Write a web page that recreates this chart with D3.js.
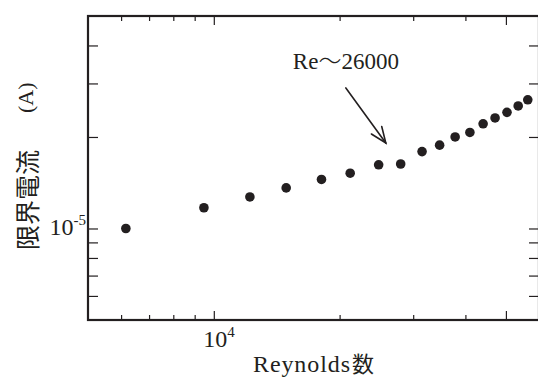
<!DOCTYPE html>
<html>
<head>
<meta charset="utf-8">
<script src="https://cdn.jsdelivr.net/npm/d3@7"></script>
<style>
  html, body { margin: 0; padding: 0; background: #fff; }
  svg { display: block; }
</style>
</head>
<body>
<svg id="chart" width="538" height="378"></svg>
<script>
// Limiting current vs. Reynolds number (log–log)
const reynolds = [6160, 9470, 12200, 14900, 18100, 21200, 24800, 28000, 31500,
                  34700, 37800, 41000, 44100, 47100, 50300, 53500, 56400];
const limitingCurrent = [1.00e-5, 1.17e-5, 1.27e-5, 1.36e-5, 1.45e-5, 1.52e-5, 1.62e-5, 1.63e-5, 1.79e-5,
                         1.88e-5, 2.00e-5, 2.07e-5, 2.21e-5, 2.31e-5, 2.41e-5, 2.53e-5, 2.65e-5];

const xDomain = [5000, 60000];
const yDomain = [5e-6, 5e-5];
const xTickValues = [6000, 7000, 8000, 9000, 10000, 20000, 30000, 40000, 50000];
const xMajorTicks = [10000, 50000];
const yTickValues = [6e-6, 7e-6, 8e-6, 9e-6, 1e-5, 2e-5, 3e-5, 4e-5];
const xTickLabels = [{ value: 1e4, base: "10", exp: "4" }];
const yTickLabels = [{ value: 1e-5, base: "10", exp: "-5" }];

const annotationText = "Re";
const annotationTilde = "～";
const annotationValue = "26000";
const annotationFrom = [20700, 2.90e-5];
const annotationTo = [25800, 1.91e-5];
const annotationTextY = 3.35e-5;

const xTitle = "Reynolds";
const xTitleUnit = "数";
const yTitle = "限界電流";
const yTitleUnit = "(A)";

const ink = "#231f20";
const serif = '"Liberation Serif"';
const gothic = '"Noto Sans CJK JP"';

const plot = { left: 88, top: 16, right: 539, bottom: 320 };

const svg = d3.select("#chart");

const x = d3.scaleLog().domain(xDomain).range([plot.left, plot.right]);
const y = d3.scaleLog().domain(yDomain).range([plot.bottom, plot.top]);

// Inward ticks on all four sides
function styleTicks(g) {
  g.select(".domain").remove();
  g.selectAll(".tick line").attr("stroke", ink).attr("stroke-width", 1.2);
  g.selectAll(".tick text").remove();
}

svg.append("g")
  .attr("transform", `translate(0,${plot.bottom})`)
  .call(d3.axisBottom(x).tickValues(xTickValues).tickSizeInner(-5).tickSizeOuter(0).tickFormat(() => ""))
  .call(styleTicks)
  .selectAll(".tick line").attr("y2", d => xMajorTicks.includes(d) ? -9 : -5);

svg.append("g")
  .attr("transform", `translate(0,${plot.top})`)
  .call(d3.axisTop(x).tickValues(xTickValues).tickSizeInner(-5).tickSizeOuter(0).tickFormat(() => ""))
  .call(styleTicks)
  .selectAll(".tick line").attr("y2", d => xMajorTicks.includes(d) ? 9 : 5);

svg.append("g")
  .attr("transform", `translate(${plot.left},0)`)
  .call(d3.axisLeft(y).tickValues(yTickValues).tickSizeInner(-10).tickSizeOuter(0).tickFormat(() => ""))
  .call(styleTicks);

svg.append("g")
  .attr("transform", `translate(${plot.right},0)`)
  .call(d3.axisRight(y).tickValues(yTickValues).tickSizeInner(-10).tickSizeOuter(0).tickFormat(() => ""))
  .call(styleTicks);

// Frame
svg.append("rect")
  .attr("x", plot.left).attr("y", plot.top)
  .attr("width", plot.right - plot.left).attr("height", plot.bottom - plot.top)
  .attr("fill", "none").attr("stroke", ink).attr("stroke-width", 2.2);

// Power-of-ten tick labels
xTickLabels.forEach(t => {
  const txt = svg.append("text")
    .attr("x", x(t.value) - 10.5).attr("y", plot.bottom + 26.5)
    .style("font-family", serif).style("font-size", "24px").attr("fill", ink);
  txt.append("tspan").text(t.base);
  txt.append("tspan").attr("dy", -10).style("font-size", "15px").text(t.exp);
});

yTickLabels.forEach(t => {
  const txt = svg.append("text")
    .attr("x", plot.left - 2).attr("y", y(t.value) + 7)
    .attr("text-anchor", "end")
    .style("font-family", serif).style("font-size", "24px").attr("fill", ink);
  txt.append("tspan").text(t.base);
  txt.append("tspan").attr("dy", -10).style("font-size", "15px").text(t.exp);
});

// Data points
svg.append("g")
  .selectAll("circle")
  .data(reynolds.map((r, i) => [r, limitingCurrent[i]]))
  .join("circle")
  .attr("cx", d => x(d[0]))
  .attr("cy", d => y(d[1]))
  .attr("r", 4.8)
  .attr("fill", ink);

// Annotation arrow pointing at the transition
const ax0 = x(annotationFrom[0]), ay0 = y(annotationFrom[1]);
const ax1 = x(annotationTo[0]), ay1 = y(annotationTo[1]);
const ang = Math.atan2(ay0 - ay1, ax0 - ax1);
const barb = 17, spread = 22 * Math.PI / 180;
const arrow = svg.append("g").attr("stroke", ink).attr("stroke-width", 1.6).attr("fill", "none")
  .attr("stroke-linecap", "round");
arrow.append("line").attr("x1", ax0).attr("y1", ay0).attr("x2", ax1).attr("y2", ay1);
arrow.append("path")
  .attr("d", `M${ax1 + barb * Math.cos(ang + spread)},${ay1 + barb * Math.sin(ang + spread)}` +
             `L${ax1},${ay1}` +
             `L${ax1 + barb * Math.cos(ang - spread)},${ay1 + barb * Math.sin(ang - spread)}`)
  .attr("stroke-linejoin", "miter");

const note = svg.append("text")
  .attr("x", ax0).attr("y", y(annotationTextY))
  .attr("text-anchor", "middle")
  .style("font-family", serif).style("font-size", "23px").attr("fill", ink);
note.append("tspan").text(annotationText);
note.append("tspan").style("font-family", gothic).style("font-weight", 300).text(annotationTilde);
note.append("tspan").text(annotationValue);

// Axis titles
const xt = svg.append("text")
  .attr("x", 253).attr("y", 372)
  .style("font-family", serif).style("font-size", "24px").attr("fill", ink);
xt.append("tspan").style("letter-spacing", "0.9px").text(xTitle);
xt.append("tspan").attr("dx", 1).style("font-family", gothic).style("font-size", "22px").text(xTitleUnit);

const yt = svg.append("g").attr("transform", "translate(25.5,250) rotate(-90)");
yt.append("text")
  .attr("x", 0).attr("y", 0)
  .attr("dominant-baseline", "central")
  .style("font-family", gothic).style("font-size", "25px").attr("fill", ink)
  .text(yTitle);
yt.append("text")
  .attr("x", 137).attr("y", 0)
  .attr("dominant-baseline", "central")
  .style("font-family", serif).style("font-size", "22px").attr("fill", ink)
  .text(yTitleUnit);
</script>
</body>
</html>
